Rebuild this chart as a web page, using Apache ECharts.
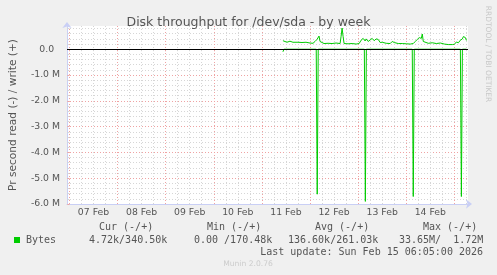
<!DOCTYPE html>
<html><head><meta charset="utf-8">
<script src="https://cdn.jsdelivr.net/npm/echarts@6/dist/echarts.min.js"></script>
<style>html,body{margin:0;padding:0;background:#F0F0F0}#c{width:497px;height:275px}</style>
</head><body><div id="c"></div>
<script>
// hours since 07 Feb 00:00; values in M (bytes/s, +write / -read)
const writeHours = [106.5,107,108.5,110,111.5,114,116,118,120,121.5,122.5,123,123.5,124,124.5,125,125.5,127,129,131,133,135,135.5,136,136.5,137,139,141,143,144.5,145.5,146.5,147.5,148,149,150,151,152,153,154,155,156,158,160,161,162,164,166,168,170,171.5,172.5,173.5,174,174.5,175,175.5,176,176.5,177,179,181,183,185,187,189,191,192,193,194,195,196,196.5,197,197.5,198];
const writeValues = [0.33,0.26,0.27,0.31,0.27,0.27,0.26,0.27,0.24,0.23,0.3,0.28,0.38,0.34,0.51,0.3,0.24,0.22,0.23,0.22,0.24,0.22,0.5,0.82,0.5,0.22,0.21,0.22,0.2,0.22,0.35,0.42,0.32,0.4,0.3,0.36,0.42,0.33,0.4,0.38,0.26,0.27,0.23,0.22,0.3,0.26,0.22,0.22,0.21,0.2,0.22,0.3,0.38,0.34,0.45,0.38,0.42,0.59,0.3,0.24,0.23,0.25,0.22,0.24,0.2,0.18,0.18,0.19,0.28,0.25,0.35,0.4,0.49,0.42,0.45,0.34];
const readHours  = [106.5,107,123.1,123.6,124.1,147.1,147.6,148.1,160,160.5,161,171,171.5,172,184.3,184.8,185.3,195,195.5,196,198];
const readValues = [-0.1,0,0,-5.62,0,0,-5.9,0,0,-0.07,0,0,-5.71,0,0,-0.06,0,0,-5.71,0,0];

const dayLabels = ['07 Feb','08 Feb','09 Feb','10 Feb','11 Feb','12 Feb','13 Feb','14 Feb'];
const dayLabelHours = [12,36,60,84,108,132,156,180];
const majorXHours = [0,24,48,72,96,120,144,168,192];
const minorXHours = [0,6,12,18,24,30,36,42,48,54,60,66,72,78,84,90,96,102,108,114,120,126,132,138,144,150,156,162,168,174,180,186,192,198];
const yMajor = [0,-1,-2,-3,-4,-5,-6];
const yMajorLabels = ['0.0  ','-1.0 M','-2.0 M','-3.0 M','-4.0 M','-5.0 M','-6.0 M'];
const yMinor = [0.8,0.6,0.4,0.2,0,-0.2,-0.4,-0.6,-0.8,-1,-1.2,-1.4,-1.6,-1.8,-2,-2.2,-2.4,-2.6,-2.8,-3,-3.2,-3.4,-3.6,-3.8,-4,-4.2,-4.4,-4.6,-4.8,-5,-5.2,-5.4,-5.6,-5.8,-6];
const legendHeaders = ['Cur (-/+)','Min (-/+)','Avg (-/+)','Max (-/+)'];
const legendValues = ['4.72k/340.50k','0.00 /170.48k','136.60k/261.03k','33.65M/  1.72M'];
const seriesName = 'Bytes';
const titleText = 'Disk throughput for /dev/sda - by week';
const yName = 'Pr second read (-) / write (+)';
const lastUpdate = 'Last update: Sun Feb 15 06:05:00 2026';

const GREEN = '#00CC00';
const AXIS = '#C9CFF5';
const GRAY = '#D6D6D6';
const RED = '#EFA3A3';
const TXT = '#555555';
const SANS = 'DejaVu Sans';
const MONO = 'DejaVu Sans Mono';

const chart = echarts.init(document.getElementById('c'), null, {renderer: 'canvas'});
const xBase = {type: 'value', min: -1.2, max: 198.8, position: 'bottom', axisLabel: {show: false}, axisLine: {show: false}, splitLine: {show: false}, axisTick: {show: false}};
const yBase = {type: 'value', min: -6, max: 0.9, position: 'left', axisLabel: {show: false}, axisLine: {show: false}, splitLine: {show: false}, axisTick: {show: false}};

const hLegendHeaderX = [99, 207, 315, 423];
const hLegendValueX = [89, 194, 288, 399];
const graphics = [
  {type: 'text', x: 13, y: 115, rotation: Math.PI / 2, style: {text: yName, font: '10.6px "DejaVu Sans"', fill: TXT, align: 'center', verticalAlign: 'middle'}},
  {type: 'text', x: 488, y: 54, rotation: -Math.PI / 2, style: {text: 'RRDTOOL / TOBI OETIKER', font: '7.5px "DejaVu Sans"', fill: '#C8C8C8', align: 'center', verticalAlign: 'middle'}},
  {type: 'rect', shape: {x: 14, y: 237, width: 6, height: 6}, style: {fill: GREEN}},
  {type: 'text', x: 26, y: 240, style: {text: seriesName, font: '10px "DejaVu Sans Mono"', fill: TXT, verticalAlign: 'middle'}},
  {type: 'text', x: 483, y: 252, style: {text: lastUpdate, font: '10px "DejaVu Sans Mono"', fill: TXT, align: 'right', verticalAlign: 'middle'}},
  {type: 'text', x: 248, y: 264, style: {text: 'Munin 2.0.76', font: '7.6px "DejaVu Sans"', fill: '#CCCCCC', align: 'center', verticalAlign: 'middle'}}
];
legendHeaders.forEach((t, i) => graphics.push({type: 'text', x: hLegendHeaderX[i], y: 227, style: {text: t, font: '10px "DejaVu Sans Mono"', fill: TXT, verticalAlign: 'middle'}}));
legendValues.forEach((t, i) => graphics.push({type: 'text', x: hLegendValueX[i], y: 240, style: {text: t, font: '10px "DejaVu Sans Mono"', fill: TXT, verticalAlign: 'middle'}}));

chart.setOption({
  animation: false,
  backgroundColor: '#F0F0F0',
  title: {text: titleText, left: 'center', top: 11, textStyle: {fontFamily: SANS, fontSize: 12.5, fontWeight: 'normal', color: TXT}},
  grid: {left: 67, top: 26, width: 401, height: 178, show: true, backgroundColor: '#FFFFFF', borderWidth: 0},
  xAxis: [
    Object.assign({}, xBase, {axisTick: {show: true, length: 2, customValues: minorXHours, lineStyle: {color: GRAY}}, splitLine: {show: true, lineStyle: {color: GRAY, type: [1, 2], width: 1}}}),
    Object.assign({}, xBase, {axisTick: {show: true, length: 2, customValues: majorXHours, lineStyle: {color: RED}}, splitLine: {show: true, lineStyle: {color: RED, type: [1, 2], width: 1}}}),
    Object.assign({}, xBase, {
      axisLine: {show: true, onZero: false, lineStyle: {color: AXIS, width: 1}, symbol: ['none', 'arrow'], symbolSize: [7, 6], symbolOffset: [0, 4]},
      axisLabel: {show: true, customValues: dayLabelHours, margin: 4, fontFamily: SANS, fontSize: 9.3, color: TXT,
        formatter: v => dayLabels[dayLabelHours.indexOf(v)] || ''}
    })
  ],
  yAxis: [
    Object.assign({}, yBase, {axisTick: {show: true, length: 2, customValues: yMinor, lineStyle: {color: GRAY}}, splitLine: {show: true, lineStyle: {color: GRAY, type: [1, 2], width: 1}}}),
    Object.assign({}, yBase, {axisTick: {show: true, length: 2, customValues: yMajor, lineStyle: {color: RED}}, splitLine: {show: true, lineStyle: {color: RED, type: [1, 2], width: 1}}}),
    Object.assign({}, yBase, {
      axisLine: {show: true, onZero: false, lineStyle: {color: AXIS, width: 1}, symbol: ['none', 'arrow'], symbolSize: [7, 6], symbolOffset: [0, 4]},
      axisLabel: {show: true, customValues: yMajor, margin: 7, fontFamily: SANS, fontSize: 9.3, color: TXT,
        formatter: v => yMajorLabels[yMajor.indexOf(v)] || ''}
    })
  ],
  graphic: graphics,
  series: [
    {name: seriesName, type: 'line', xAxisIndex: 0, yAxisIndex: 0, showSymbol: false, symbol: 'none',
      lineStyle: {color: GREEN, width: 1}, data: writeHours.map((h, i) => [h, writeValues[i]])},
    {name: seriesName, type: 'line', xAxisIndex: 0, yAxisIndex: 0, showSymbol: false, symbol: 'none',
      lineStyle: {color: GREEN, width: 1}, data: readHours.map((h, i) => [h, readValues[i]]),
      markLine: {silent: true, symbol: ['none', 'none'], label: {show: false}, lineStyle: {color: '#000000', width: 1, type: 'solid'}, data: [{yAxis: 0}]}}
  ]
});
</script></body></html>
